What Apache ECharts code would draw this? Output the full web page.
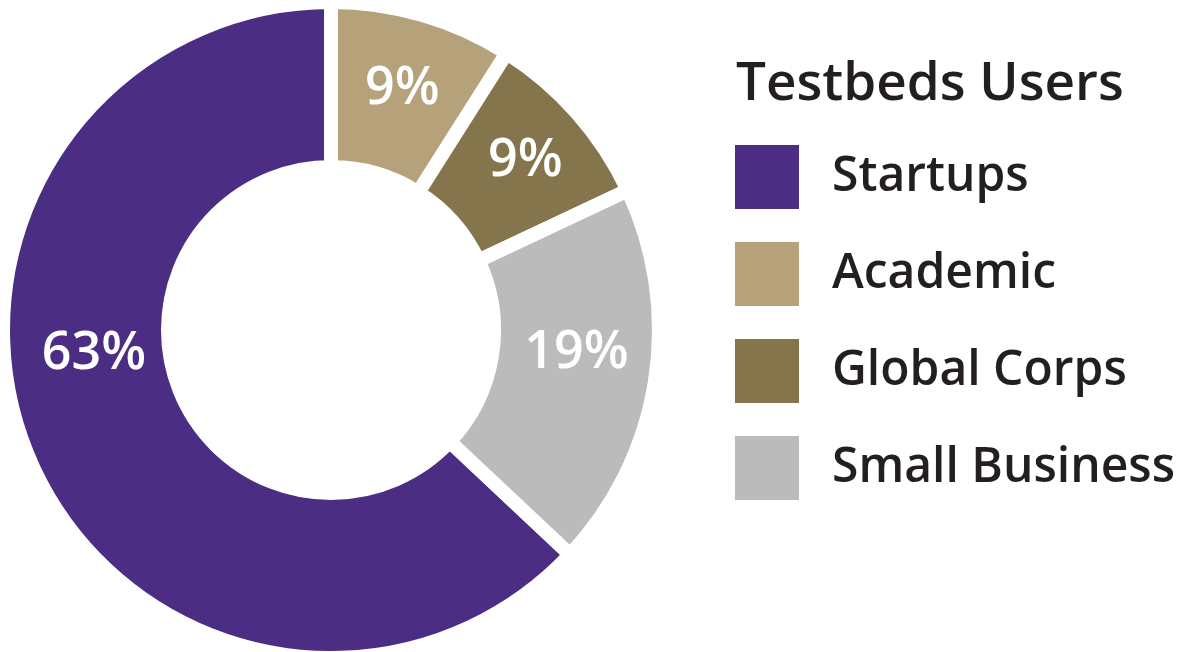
<!DOCTYPE html>
<html>
<head>
<meta charset="utf-8">
<script src="https://cdn.jsdelivr.net/npm/echarts@6/dist/echarts.min.js"></script>
<style>
  html, body { margin: 0; padding: 0; background: #fff; }
  #chart { width: 1183px; height: 652px; }
</style>
</head>
<body>
<div id="chart"></div>
<script>
// testbeds users share
const categories = ['Startups', 'Academic', 'Global Corps', 'Small Business']
const shares = [63, 9, 9, 19]
const colors = ['#4b2e83', '#b5a27a', '#85754d', '#bbbbbb']
// label nudges so the percentages sit where the original puts them
const labelOffsets = [[-9, -75], [2, -2], [8, -4], [0, -16]]

const total = shares.reduce((a, b) => a + b, 0)
// startups slice ends at 12 o'clock, the rest follow clockwise
const startAngle = 90 + shares[0] / total * 360

const chart = echarts.init(document.getElementById('chart'))

const pieData = categories.map((name, i) => ({
  name: name,
  value: shares[i],
  itemStyle: { color: colors[i] },
  label: { offset: labelOffsets[i] }
}))

chart.setOption({
  animation: false,
  title: {
    text: 'Testbeds Users',
    left: 731,
    top: 53,
    textStyle: {
      fontFamily: 'Open Sans',
      fontSize: 53,
      fontWeight: 600,
      color: '#231f20'
    }
  },
  legend: {
    orient: 'vertical',
    left: 728,
    top: 138,
    icon: 'rect',
    itemWidth: 66,
    itemHeight: 66,
    itemGap: 29,
    data: categories,
    textStyle: {
      fontFamily: 'Open Sans',
      fontSize: 48,
      fontWeight: 600,
      color: '#231f20',
      padding: [0, 0, 0, 27]
    }
  },
  series: [{
    type: 'pie',
    center: [331, 330],
    radius: [163, 328],
    startAngle: startAngle,
    clockwise: true,
    avoidLabelOverlap: false,
    itemStyle: {
      borderColor: '#fff',
      borderWidth: 14
    },
    label: {
      show: true,
      position: 'inside',
      formatter: '{d}%',
      color: '#fff',
      fontFamily: 'Open Sans',
      fontSize: 52,
      fontWeight: 600
    },
    labelLine: { show: false },
    emphasis: { disabled: true },
    data: pieData
  }]
})
</script>
</body>
</html>
